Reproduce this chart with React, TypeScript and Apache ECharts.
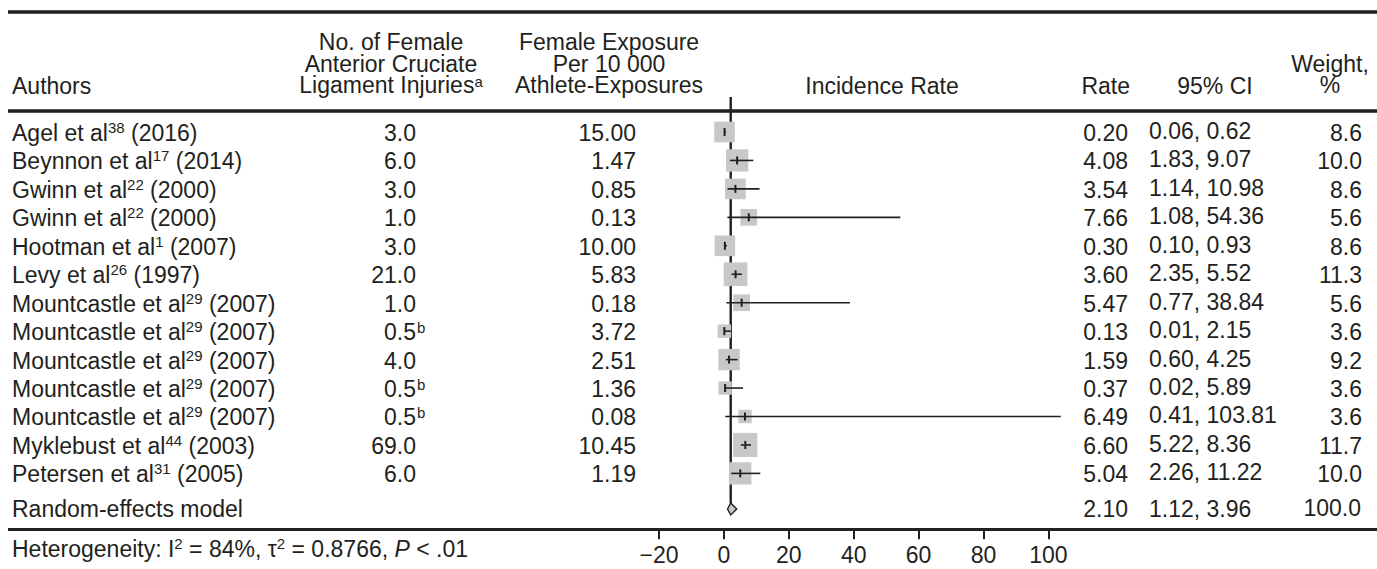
import React, { useEffect, useRef } from "react";
import * as echarts from "echarts";

// ---------- data ----------
const authors = [
  "Agel et al", "Beynnon et al", "Gwinn et al", "Gwinn et al", "Hootman et al", "Levy et al",
  "Mountcastle et al", "Mountcastle et al", "Mountcastle et al", "Mountcastle et al", "Mountcastle et al",
  "Myklebust et al", "Petersen et al",
];
const refs = ["38", "17", "22", "22", "1", "26", "29", "29", "29", "29", "29", "44", "31"];
const years = ["2016", "2014", "2000", "2000", "2007", "1997", "2007", "2007", "2007", "2007", "2007", "2003", "2005"];
const injuries = [3.0, 6.0, 3.0, 1.0, 3.0, 21.0, 1.0, 0.5, 4.0, 0.5, 0.5, 69.0, 6.0];
const injuryNotes = ["", "", "", "", "", "", "", "b", "", "b", "b", "", ""];
const exposures = [15.0, 1.47, 0.85, 0.13, 10.0, 5.83, 0.18, 3.72, 2.51, 1.36, 0.08, 10.45, 1.19];
const rates = [0.2, 4.08, 3.54, 7.66, 0.3, 3.6, 5.47, 0.13, 1.59, 0.37, 6.49, 6.6, 5.04];
const lowers = [0.06, 1.83, 1.14, 1.08, 0.1, 2.35, 0.77, 0.01, 0.6, 0.02, 0.41, 5.22, 2.26];
const uppers = [0.62, 9.07, 10.98, 54.36, 0.93, 5.52, 38.84, 2.15, 4.25, 5.89, 103.81, 8.36, 11.22];
const weights = [8.6, 10.0, 8.6, 5.6, 8.6, 11.3, 5.6, 3.6, 9.2, 3.6, 3.6, 11.7, 10.0];

const pooledLabel = "Random-effects model";
const pooledRate = 2.1;
const pooledLower = 1.12;
const pooledUpper = 3.96;
const pooledWeight = 100.0;

const xTicks = [-20, 0, 20, 40, 60, 80, 100];

// ---------- style ----------
const INK = "#231f20";
const FONT = "'Liberation Sans', Arial, Helvetica, sans-serif";
const FS = 23;
const SUP = 15;
const HLH = 21.8;
const SQUARE_K = 7.05;
const POOLED_ROW = rates.length + 0.25;

const rich = {
  n: { fontSize: FS, lineHeight: 26, fontFamily: FONT, fill: INK },
  s: { fontSize: SUP, lineHeight: 16, fontFamily: FONT, fill: INK, verticalAlign: "top" },
  i: { fontSize: FS, lineHeight: 26, fontFamily: FONT, fill: INK, fontStyle: "italic" },
};
const headRich = {
  n: { fontSize: FS, lineHeight: HLH, fontFamily: FONT, fill: INK },
  s: { fontSize: SUP, lineHeight: 13, fontFamily: FONT, fill: INK, verticalAlign: "top" },
};

function txt(text: string, x: number, y: number, align: string, extra: any = {}) {
  return {
    type: "text",
    x,
    y,
    silent: true,
    style: {
      text,
      fill: INK,
      fontSize: FS,
      fontFamily: FONT,
      align,
      verticalAlign: "middle",
      ...extra,
    },
  };
}

function richTxt(text: string, x: number, y: number, align: string, r: any = rich) {
  return txt(text, x, y, align, { rich: r });
}

export default function App() {
  const ref = useRef<HTMLDivElement>(null);

  useEffect(() => {
    document.body.style.margin = "0";
    document.body.style.overflow = "hidden";
    if (!ref.current) return;
    const chart = echarts.init(ref.current, undefined, { renderer: "svg" });

    const forestData = rates.map((r, i) => [r, i, lowers[i], uppers[i], weights[i]]);
    const tableData = rates.map((_, i) => [0, i]);

    const option: any = {
      animation: false,
      backgroundColor: "#ffffff",
      grid: {
        left: 659,
        right: 1377 - 1048.4,
        top: 110.66,
        height: 419.64,
        containLabel: false,
        outerBoundsMode: "none",
      },
      xAxis: {
        type: "value",
        min: -20,
        max: 100,
        interval: 20,
        splitLine: { show: false },
        axisLine: { show: false, onZero: false },
        axisTick: {
          show: true,
          length: 9,
          customValues: xTicks,
          lineStyle: { color: INK, width: 2 },
        },
        axisLabel: {
          show: true,
          customValues: xTicks,
          margin: 16,
          lineHeight: 18,
          fontSize: FS,
          fontFamily: FONT,
          color: INK,
          formatter: (v: number) => (v < 0 ? "\u2212" + Math.abs(v) : String(v)),
        },
      },
      yAxis: {
        type: "value",
        inverse: true,
        min: -0.75,
        max: 14,
        show: false,
        splitLine: { show: false },
      },
      graphic: [
        // rules
        { type: "line", silent: true, shape: { x1: 8, y1: 12, x2: 1377, y2: 12 }, style: { stroke: INK, lineWidth: 3.5 } },
        { type: "line", silent: true, shape: { x1: 8, y1: 111, x2: 1377, y2: 111 }, style: { stroke: INK, lineWidth: 3.5 } },
        { type: "line", silent: true, shape: { x1: 8, y1: 529.5, x2: 1377, y2: 529.5 }, style: { stroke: INK, lineWidth: 3 } },
        // header
        txt("Authors", 12, 86, "left"),
        richTxt("{n|No. of Female}\n{n|Anterior Cruciate}\n{n|Ligament Injuries}{s|a}", 391, 63.5, "center", headRich),
        txt("Female Exposure\nPer 10\u00a0000\nAthlete-Exposures", 609, 63.5, "center", { lineHeight: HLH }),
        txt("Incidence Rate", 882, 86, "center"),
        txt("Rate", 1130, 86, "right"),
        txt("95% CI", 1215, 86, "center"),
        txt("Weight,\n%", 1330, 74.5, "center", { lineHeight: HLH }),
        // footer
        richTxt("{n|Heterogeneity: I}{s|2}{n| = 84%, \u03c4}{s|2}{n| = 0.8766, }{i|P}{n| < .01}", 12, 549, "left"),
      ],
      series: [
        {
          type: "custom",
          name: "pooled",
          clip: false,
          silent: true,
          encode: { x: 0, y: 1 },
          data: [[pooledRate, POOLED_ROW, pooledLower, pooledUpper]],
          renderItem: (params: any, api: any) => {
            const row = api.value(1);
            const [xr, y] = api.coord([api.value(0), row]);
            const xl = api.coord([api.value(2), row])[0];
            const xu = api.coord([api.value(3), row])[0];
            const h = 6;
            return {
              type: "group",
              children: [
                { type: "line", shape: { x1: xr, y1: 97, x2: xr, y2: y - h }, style: { stroke: INK, lineWidth: 2.4 } },
                {
                  type: "polygon",
                  shape: { points: [[xl, y], [xr, y - h], [xu, y], [xr, y + h]] },
                  style: { fill: "#c8c8c8", stroke: INK, lineWidth: 1.4 },
                },
              ],
            };
          },
        },
        {
          type: "custom",
          name: "studies",
          clip: false,
          silent: true,
          encode: { x: 0, y: 1 },
          data: forestData,
          renderItem: (params: any, api: any) => {
            const row = api.value(1);
            const [xr, y] = api.coord([api.value(0), row]);
            const xl = api.coord([api.value(2), row])[0];
            const xu = api.coord([api.value(3), row])[0];
            const s = SQUARE_K * Math.sqrt(api.value(4));
            return {
              type: "group",
              children: [
                { type: "rect", shape: { x: xr - s / 2, y: y - s / 2, width: s, height: s }, style: { fill: "#c8c8c8" } },
                { type: "line", shape: { x1: xl, y1: y, x2: xu, y2: y }, style: { stroke: INK, lineWidth: 1.6 } },
                { type: "line", shape: { x1: xr, y1: y - 4, x2: xr, y2: y + 4 }, style: { stroke: INK, lineWidth: 2 } },
              ],
            };
          },
        },
        {
          type: "custom",
          name: "table",
          clip: false,
          silent: true,
          encode: { x: 0, y: 1 },
          data: [...tableData, [0, POOLED_ROW]],
          renderItem: (params: any, api: any) => {
            const i = params.dataIndex;
            const row = api.value(1);
            const y = api.coord([0, row])[1];
            if (i >= rates.length) {
              const ty = y;
              return {
                type: "group",
                children: [
                  txt(pooledLabel, 12, ty, "left"),
                  txt(pooledRate.toFixed(2), 1128, ty, "right"),
                  txt(pooledLower.toFixed(2) + ", " + pooledUpper.toFixed(2), 1149, ty, "left"),
                  txt(pooledWeight.toFixed(1), 1361, ty - 1, "right"),
                ],
              };
            }
            const ty = y + 1;
            const children: any[] = [
              richTxt(`{n|${authors[i]}}{s|${refs[i]}}{n| (${years[i]})}`, 12, ty, "left"),
              txt(injuries[i].toFixed(1), 416, ty, "right"),
              txt(exposures[i].toFixed(2), 636, ty, "right"),
              txt(rates[i].toFixed(2), 1128, ty, "right"),
              txt(lowers[i].toFixed(2) + ", " + uppers[i].toFixed(2), 1149, ty - 2, "left"),
              txt(weights[i].toFixed(1), 1362, ty, "right"),
            ];
            if (injuryNotes[i]) {
              children.push(txt(injuryNotes[i], 417, ty - 5, "left", { fontSize: SUP }));
            }
            return { type: "group", children };
          },
        },
      ],
    };

    chart.setOption(option);
    return () => chart.dispose();
  }, []);

  return <div ref={ref} style={{ width: 1377, height: 569 }} />;
}
